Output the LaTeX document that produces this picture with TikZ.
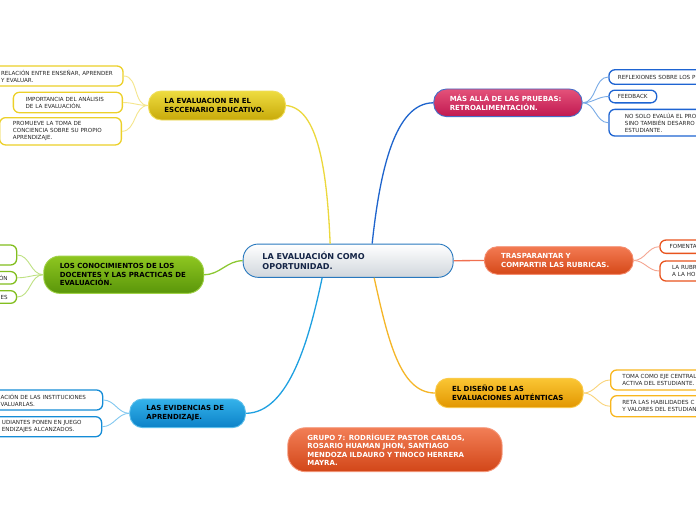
\documentclass[tikz,border=0pt]{standalone}
\usepackage{fontspec}
\setmainfont{DejaVu Sans}
\definecolor{navy}{RGB}{20,36,70}
\definecolor{cbord}{RGB}{40,120,190}
\definecolor{cbot}{RGB}{208,214,220}
\definecolor{ytop}{RGB}{238,220,64}
\definecolor{ybot}{RGB}{200,170,10}
\definecolor{ybrd}{RGB}{240,222,90}
\definecolor{ycon}{RGB}{236,216,60}
\definecolor{ylf}{RGB}{236,208,40}
\definecolor{ysub}{RGB}{245,230,140}
\definecolor{ptop}{RGB}{228,82,122}
\definecolor{pbot}{RGB}{192,24,80}
\definecolor{pbrd}{RGB}{70,110,200}
\definecolor{bcon}{RGB}{30,100,205}
\definecolor{blf}{RGB}{30,100,210}
\definecolor{bsub}{RGB}{120,170,230}
\definecolor{otop}{RGB}{242,122,82}
\definecolor{obot}{RGB}{214,72,24}
\definecolor{obrd}{RGB}{245,140,110}
\definecolor{ocon}{RGB}{240,112,80}
\definecolor{olf}{RGB}{232,84,30}
\definecolor{osub}{RGB}{245,165,145}
\definecolor{qtop}{RGB}{250,198,52}
\definecolor{qbot}{RGB}{226,150,0}
\definecolor{qbrd}{RGB}{250,202,72}
\definecolor{qcon}{RGB}{245,182,40}
\definecolor{qlf}{RGB}{248,182,30}
\definecolor{qsub}{RGB}{250,212,122}
\definecolor{gtop}{RGB}{142,198,32}
\definecolor{gbot}{RGB}{90,150,10}
\definecolor{gbrd}{RGB}{160,210,70}
\definecolor{gcon}{RGB}{140,200,50}
\definecolor{glf}{RGB}{130,190,30}
\definecolor{gsub}{RGB}{190,225,130}
\definecolor{ktop}{RGB}{52,178,234}
\definecolor{kbot}{RGB}{12,130,200}
\definecolor{kbrd}{RGB}{90,190,235}
\definecolor{kcon}{RGB}{30,160,225}
\definecolor{klf}{RGB}{20,140,215}
\definecolor{ksub}{RGB}{130,200,240}
\definecolor{rtop}{RGB}{242,126,86}
\definecolor{rbot}{RGB}{210,70,24}
\definecolor{rbrd}{RGB}{245,150,120}
\tikzset{
  hd/.style={rounded corners=13pt, align=left, line width=0.9pt, inner ysep=0pt,
    font=\bfseries\fontsize{7}{8.5}\selectfont, anchor=west},
  lf/.style={draw, fill=white, rounded corners=6pt, line width=1.3pt, align=left,
    inner ysep=0pt, font=\fontsize{5.6}{7}\selectfont, text=black!85},
  mainc/.style={line width=1.3pt},
  sub/.style={line width=0.9pt},
}
\begin{document}
\begin{tikzpicture}[x=1pt,y=-1pt]
\useasboundingbox (0,0) rectangle (696,520);
\fill[white] (0,0) rectangle (696,520);
% central
\node[hd, draw=cbord, text width=171.4pt, inner xsep=19.3pt, minimum height=33.3pt,
  rounded corners=15pt, top color=white, bottom color=cbot, text=navy,
  font=\bfseries\fontsize{8.1}{10}\selectfont] (c) at (242.7,260.7) {LA EVALUACIÓN COMO\\OPORTUNIDAD.};
% headings
\node[hd, draw=ybrd, text width=105pt, inner xsep=16pt, minimum height=29pt,
  top color=ytop, bottom color=ybot, text=black] (yh) at (148,105.5) {LA EVALUACION EN EL\\ESCCENARIO EDUCATIVO.};
\node[hd, draw=pbrd, text width=116.4pt, inner xsep=16pt, minimum height=27.7pt,
  top color=ptop, bottom color=pbot, text=white] (ph) at (433.3,102.8) {MÁS ALLÁ DE LAS PRUEBAS:\\RETROALIMENTACIÓN.};
\node[hd, draw=gbrd, text width=128pt, inner xsep=16pt, minimum height=37.3pt,
  rounded corners=16pt, top color=gtop, bottom color=gbot, text=black] (gh) at (43.3,274.7) {LOS CONOCIMIENTOS DE LOS\\DOCENTES Y LAS PRACTICAS DE\\EVALUACIÓN.};
\node[hd, draw=kbrd, text width=82.3pt, inner xsep=16.7pt, minimum height=28.7pt,
  top color=ktop, bottom color=kbot, text=black] (kh) at (129.3,413.3) {LAS EVIDENCIAS DE\\APRENDIZAJE.};
\node[hd, draw=obrd, text width=115.3pt, inner xsep=16.7pt, minimum height=27.6pt,
  top color=otop, bottom color=obot, text=white] (oh) at (484,260.5) {TRASPARANTAR Y\\COMPARTIR LAS RUBRICAS.};
\node[hd, draw=qbrd, text width=114.3pt, inner xsep=16.7pt, minimum height=29.4pt,
  top color=qtop, bottom color=qbot, text=black] (qh) at (435,393) {EL DISEÑO DE LAS\\EVALUACIONES AUTÉNTICAS};
\node[hd, draw=rbrd, text width=175pt, inner xsep=19.7pt, minimum height=44pt,
  rounded corners=18pt, top color=rtop, bottom color=rbot, text=white] (grp) at (287.3,449.7)
  {GRUPO 7: RODRÍGUEZ PASTOR CARLOS,\\ROSARIO HUAMAN JHON, SANTIAGO\\MENDOZA ILDAURO Y TINOCO HERRERA\\MAYRA.};
% yellow leaves
\node[lf, draw=ylf, anchor=west, inner xsep=10pt, text width=112pt, minimum height=20pt] (y1) at (-9.6,76) {RELACIÓN ENTRE ENSEÑAR, APRENDER\\Y EVALUAR.};
\node[lf, draw=ylf, anchor=west, inner xsep=12.3pt, text width=84.4pt, minimum height=20.4pt] (y2) at (12.7,102.5) {IMPORTANCIA DEL ANÁLISIS\\DE LA EVALUACIÓN.};
\node[lf, draw=ylf, anchor=west, inner xsep=13.3pt, text width=95.1pt, minimum height=27.3pt] (y3) at (-1,131.3) {PROMUEVE LA TOMA DE\\CONCIENCIA SOBRE SU PROPIO\\APRENDIZAJE.};
% blue leaves
\node[lf, draw=blf, anchor=west, inner xsep=9pt, text width=120pt, minimum height=14.5pt] (b1) at (608.3,77) {REFLEXIONES SOBRE LOS P};
\node[lf, draw=blf, anchor=west, inner xsep=8.9pt, text width=30pt, minimum height=12.7pt] (b2) at (608.3,96.5) {FEEDBACK};
\node[lf, draw=blf, anchor=west, inner xsep=16pt, text width=120pt, minimum height=26.7pt] (b3) at (608.3,122.7) {NO SOLO EVALÚA EL PRO\\SINO TAMBIÉN DESARRO\\ESTUDIANTE.};
% orange leaves
\node[lf, draw=olf, anchor=west, inner xsep=9.7pt, text width=60pt, minimum height=13.3pt] (o1) at (659.3,246.7) {FOMENTA};
\node[lf, draw=olf, anchor=west, inner xsep=12.2pt, text width=60pt, minimum height=20pt] (o2) at (659.3,271) {LA RUBR\\A LA HO};
% orange-yellow leaves
\node[lf, draw=qlf, anchor=west, inner xsep=11.7pt, text width=120pt, minimum height=20pt] (q1) at (610,380) {TOMA COMO EJE CENTRAL\\ACTIVA DEL ESTUDIANTE.};
\node[lf, draw=qlf, anchor=west, inner xsep=11.7pt, text width=120pt, minimum height=21pt] (q2) at (610,406.2) {RETA LAS HABILIDADES C\\Y VALORES DEL ESTUDIAN};
% green leaves
\node[lf, draw=glf, anchor=east, inner xsep=9pt, minimum width=47.3pt, minimum height=20pt] (g1) at (17.3,255) {};
\node[lf, draw=glf, anchor=east, inner xsep=9pt, minimum height=12.5pt] (g2) at (17.3,277.8) {ÓN};
\node[lf, draw=glf, anchor=east, inner xsep=9pt, minimum height=12.6pt] (g3) at (17.3,297) {IES};
% cyan leaves
\node[lf, draw=klf, anchor=west, inner xsep=16pt, text width=86pt, minimum height=20pt] (k1) at (-16,400) {ACIÓN DE LAS INSTITUCIONES\\VALUARLAS.};
\node[lf, draw=klf, anchor=west, inner xsep=16pt, text width=83.7pt, minimum height=20pt] (k2) at (-14.7,426.7) {UDIANTES PONEN EN JUEGO\\ENDIZAJES ALCANZADOS.};
% main connectors
\draw[mainc, ycon] ([xshift=-18pt]c.north) .. controls (327,170) and (318,108) .. (yh.east);
\draw[mainc, bcon] ([xshift=24pt]c.north) .. controls (380,170) and (395,103) .. (ph.west);
\draw[mainc, gcon] (c.west) to[out=180,in=0] (gh.east);
\draw[mainc, kcon] ([xshift=-26pt]c.south) .. controls (310,335) and (290,413) .. (kh.east);
\draw[mainc, ocon] (c.east) -- (oh.west);
\draw[mainc, qcon] ([xshift=26pt]c.south) .. controls (388,340) and (400,393) .. (qh.west);
% sub connectors
\foreach \l in {y1,y2,y3} \draw[sub, ysub] (yh.west) to[out=180,in=0] (\l.east);
\foreach \l in {b1,b2,b3} \draw[sub, bsub] (ph.east) to[out=0,in=180] (\l.west);
\foreach \l in {o1,o2} \draw[sub, osub] (oh.east) to[out=0,in=180] (\l.west);
\foreach \l in {q1,q2} \draw[sub, qsub] (qh.east) to[out=0,in=180] (\l.west);
\foreach \l in {g1,g2,g3} \draw[sub, gsub] (gh.west) to[out=180,in=0] (\l.east);
\foreach \l in {k1,k2} \draw[sub, ksub] (kh.west) to[out=180,in=0] (\l.east);
\end{tikzpicture}
\end{document}
